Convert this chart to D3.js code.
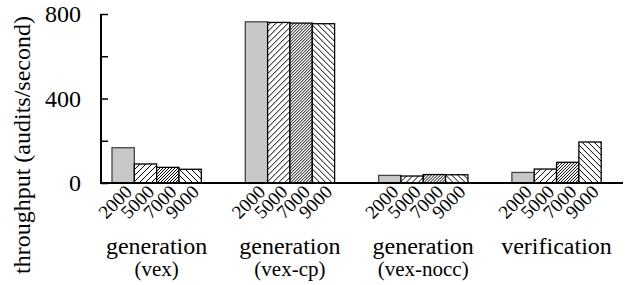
<!DOCTYPE html>
<html>
<head>
<script src="https://d3js.org/d3.v7.min.js"></script>
<style>
  body { margin: 0; background: #fff; }
</style>
</head>
<body>
<script>
  // data
  var groups = ["generation (vex)", "generation (vex-cp)", "generation (vex-nocc)", "verification"];
  var groupLine1 = ["generation", "generation", "generation", "verification"];
  var groupLine2 = ["(vex)", "(vex-cp)", "(vex-nocc)", ""];
  var sizes = ["2000", "5000", "7000", "9000"];
  var vex = [167, 90, 74, 65];
  var vexCp = [763, 760, 757, 754];
  var vexNocc = [36, 33, 40, 39];
  var verification = [50, 66, 98, 194];
  var yTicks = [0, 200, 400, 600, 800];
  var yLabels = [0, 400, 800];

  var values = [vex, vexCp, vexNocc, verification];

  var width = 626, height = 285;
  var axisX = 101, zeroY = 183, topY = 14, rightX = 623;
  var font = "'Liberation Serif', 'Times New Roman', Times, serif";

  var svg = d3.select("body").append("svg")
      .attr("width", width)
      .attr("height", height)
      .style("font-family", font);

  // hatch patterns
  var defs = svg.append("defs");
  function hatch(id, spacing, dir, sw) {
    var p = defs.append("pattern")
        .attr("id", id)
        .attr("patternUnits", "userSpaceOnUse")
        .attr("width", spacing)
        .attr("height", spacing);
    p.append("rect").attr("width", spacing).attr("height", spacing).attr("fill", "#fff");
    var s = spacing;
    var d = dir > 0
      ? "M0," + s + "L" + s + ",0 M" + (-s) + "," + s + "L" + s + "," + (-s) + " M0," + (2 * s) + "L" + (2 * s) + ",0"
      : "M0,0L" + s + "," + s + " M" + (-s) + ",0L" + s + "," + (2 * s) + " M0," + (-s) + "L" + (2 * s) + "," + s;
    p.append("path").attr("d", d)
        .attr("stroke", "#000")
        .attr("stroke-width", sw)
        .attr("shape-rendering", "crispEdges");
  }
  hatch("h5000", 6, 1, 1.2);
  hatch("h7000", 3, 1, 1.1);
  hatch("h9000", 6, -1, 1.2);

  var fills = ["#c8c8c8", "url(#h5000)", "url(#h7000)", "url(#h9000)"];
  var strokes = ["#444", "#000", "#000", "#000"];

  var y = d3.scaleLinear().domain([0, 800]).range([zeroY, topY]);

  var x0 = d3.scaleBand().domain(groups).range([112, 112 + 133.3 * 4]).paddingInner(0).paddingOuter(0);
  var x1 = d3.scaleBand().domain(sizes).range([0, 89.3]);

  // bars
  var g = svg.selectAll("g.grp").data(groups).enter().append("g")
      .attr("class", "grp")
      .attr("transform", function(d) { return "translate(" + x0(d) + ",0)"; });

  g.each(function(gname, gi) {
    var sel = d3.select(this);
    sel.selectAll("rect").data(values[gi]).enter().append("rect")
        .attr("x", function(d, i) { return x1(sizes[i]); })
        .attr("y", function(d) { return y(d); })
        .attr("width", x1.bandwidth())
        .attr("height", function(d) { return zeroY - y(d); })
        .attr("fill", function(d, i) { return fills[i]; })
        .attr("stroke", function(d, i) { return strokes[i]; })
        .attr("stroke-width", 1.3);

    sel.selectAll("text.sz").data(sizes).enter().append("text")
        .attr("class", "sz")
        .attr("text-anchor", "end")
        .style("font-family", font)
        .attr("font-size", 19)
        .attr("transform", function(d) {
          return "translate(" + (x1(d) + x1.bandwidth() / 2 + 10) + "," + (zeroY + 10) + ") rotate(-45)";
        })
        .text(function(d) { return d; });

    sel.append("text")
        .attr("x", 44.6)
        .attr("y", 254)
        .attr("text-anchor", "middle")
        .style("font-family", font)
        .attr("font-size", 24)
        .text(groupLine1[gi]);

    sel.append("text")
        .attr("x", 44.6)
        .attr("y", 276)
        .attr("text-anchor", "middle")
        .style("font-family", font)
        .attr("font-size", 21)
        .text(groupLine2[gi]);
  });

  // y axis
  var yAxis = d3.axisRight(y).tickValues(yTicks).tickSize(7).tickFormat("");
  var ax = svg.append("g")
      .attr("transform", "translate(" + axisX + ",0)")
      .call(yAxis);
  ax.select(".domain").remove();
  ax.selectAll(".tick line").attr("stroke", "#000").attr("stroke-width", 1.5);

  svg.append("line")
      .attr("x1", axisX).attr("x2", axisX)
      .attr("y1", topY).attr("y2", zeroY)
      .attr("stroke", "#000").attr("stroke-width", 2);

  svg.append("line")
      .attr("x1", axisX - 1).attr("x2", rightX)
      .attr("y1", zeroY).attr("y2", zeroY)
      .attr("stroke", "#000").attr("stroke-width", 2);

  svg.selectAll("text.yl").data(yLabels).enter().append("text")
      .attr("class", "yl")
      .attr("x", 81)
      .attr("y", function(d) { return y(d); })
      .attr("dy", "0.35em")
      .attr("text-anchor", "end")
      .style("font-family", font)
      .attr("font-size", 24)
      .text(function(d) { return d; });

  svg.append("text")
      .attr("transform", "translate(30,145) rotate(-90)")
      .attr("text-anchor", "middle")
      .style("font-family", font)
      .attr("font-size", 24)
      .text("throughput (audits/second)");
</script>
</body>
</html>
